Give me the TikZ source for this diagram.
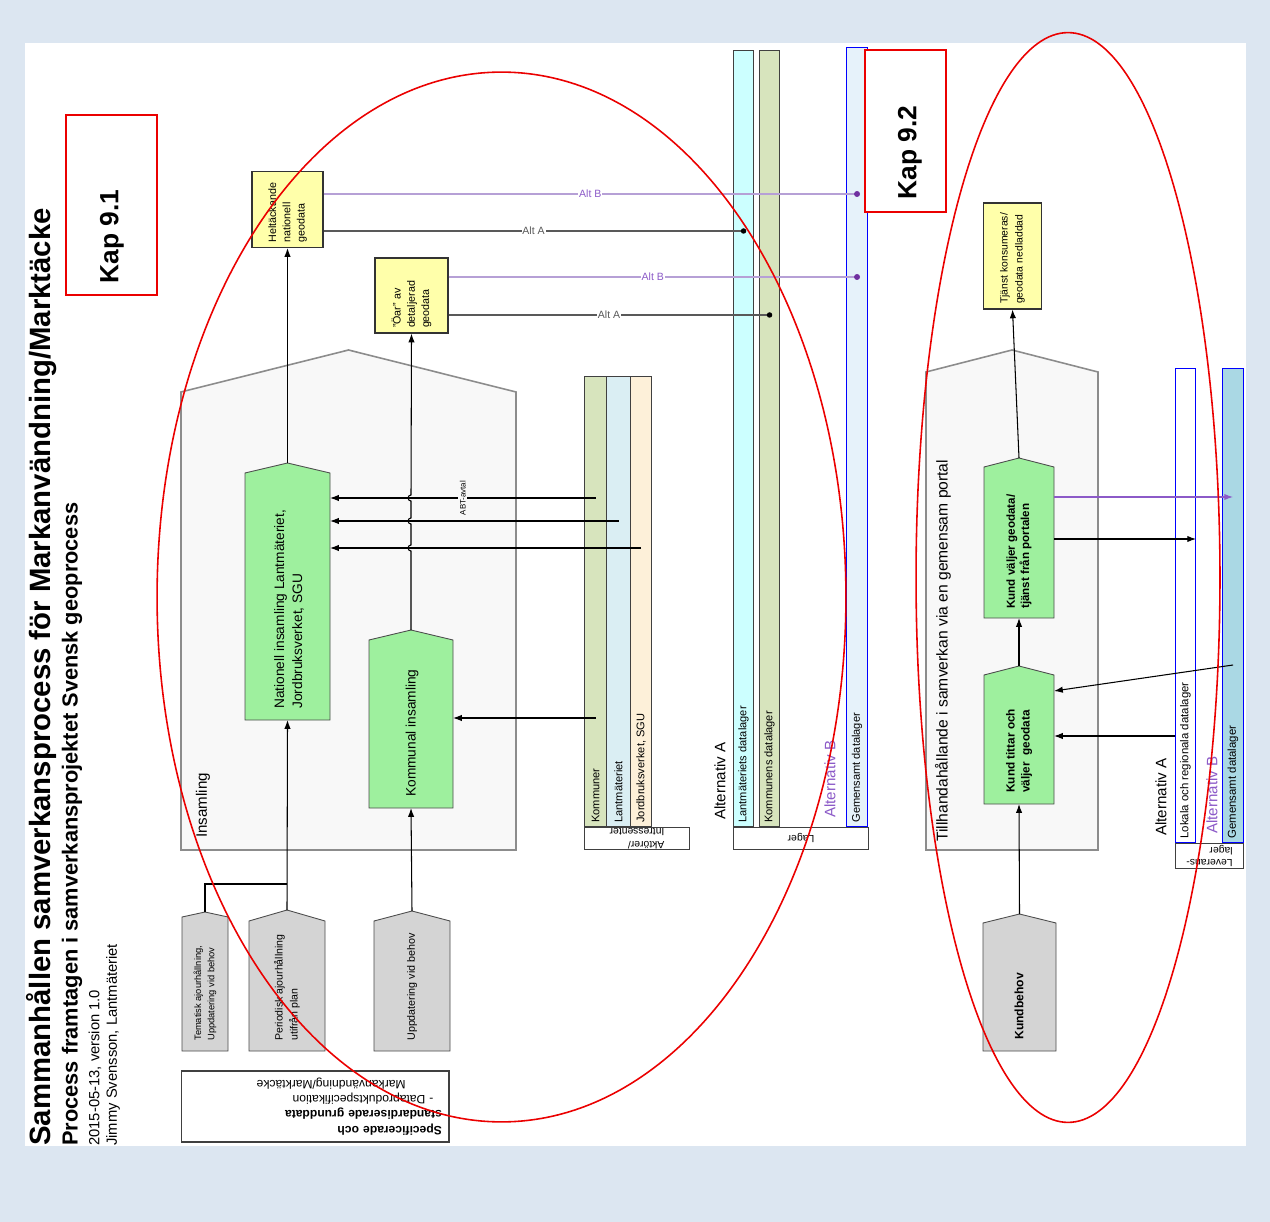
\documentclass[tikz,border=0pt]{standalone}
\usepackage{fontspec}
\setmainfont{Liberation Sans}
\usepackage{tikz}
\usetikzlibrary{shapes,arrows.meta,positioning,calc}
\usepackage{xcolor}
\definecolor{framebg}{RGB}{220,230,241}
\definecolor{boxgreen}{RGB}{158,240,158}
\definecolor{boxgray}{RGB}{212,212,212}
\definecolor{boxyellow}{RGB}{255,255,170}
\definecolor{phasegray}{RGB}{248,248,248}
\definecolor{cololive}{RGB}{215,228,189}
\definecolor{colsky}{RGB}{218,238,243}
\definecolor{colpeach}{RGB}{253,240,217}
\definecolor{colcyan}{RGB}{204,255,255}
\definecolor{colpale}{RGB}{230,242,250}
\definecolor{colblue}{RGB}{170,216,228}
\definecolor{altpurple}{RGB}{112,48,160}
\definecolor{altline}{RGB}{182,160,214}
\definecolor{altlabel}{RGB}{140,90,200}
\definecolor{kapred}{RGB}{235,0,0}

\newcommand{\fs}[2]{\fontsize{#1}{#2}\selectfont}
% pentagon box: name, left, right, corner y, apex y, base y, style
\newcommand{\capbox}[7]{%
  \draw[#7] (#2,#6) -- (#2,#4) -- ({(#2+#3)/2},#5) -- (#3,#4) -- (#3,#6) -- cycle;
  \coordinate (#1-apex) at ({(#2+#3)/2},#5);
  \coordinate (#1-base) at ({(#2+#3)/2},#6);
  \coordinate (#1-side) at (#3,#4);
}

\begin{document}
\begin{tikzpicture}[x=0.02cm, y=-0.02cm, >={Latex[length=5pt,width=3.6pt]}]
    \tikzstyle{phase} = [draw=black!45, line width=0.9pt, fill=phasegray]
    \tikzstyle{act} = [draw=black!70, line width=0.5pt, fill=boxgreen]
    \tikzstyle{need} = [draw=black!70, line width=0.5pt, fill=boxgray]
    \tikzstyle{result} = [draw=black!80, line width=0.6pt, fill=boxyellow, rotate=90, inner xsep=0.1cm, inner ysep=0pt, align=left]
    \tikzstyle{txt} = [rotate=90, anchor=west, inner sep=0pt, align=left]
    \tikzstyle{store} = [draw=black!75, line width=0.6pt, inner sep=0pt, anchor=north west]
    \tikzstyle{altstore} = [store, draw=blue]
    \tikzstyle{link} = [line width=0.6pt]
    \tikzstyle{flow} = [->, line width=0.6pt]
    \tikzstyle{altA} = [black!65, line width=0.6pt]
    \tikzstyle{altB} = [altline, line width=0.8pt]
    \tikzstyle{altlbl} = [fill=white, inner sep=0.5pt, font=\fs{6}{7}]
    \tikzstyle{kap} = [draw=kapred, line width=0.9pt]

    % frame
    \fill[framebg] (0,0) rectangle (1270,1222);
    \useasboundingbox (0,0) rectangle (1270,1222);
    \fill[white] (25,43) rectangle (1246,1146);

    % title block
    \node[txt, font=\bfseries\fs{16.7}{20}] (ttl) at (42,1146) {Sammanhållen samverkansprocess för Markanvändning/Marktäcke};
    \node[txt, font=\bfseries\fs{12.4}{14}] (sub) at (72,1146) {Process framtagen i samverkansprojektet Svensk geoprocess};
    \node[txt, font=\fs{8.4}{9}] (ver) at (95,1146) {2015-05-13, version 1.0};
    \node[txt, font=\fs{8.4}{9}] (auth) at (113,1146) {Jimmy Svensson, Lantmäteriet};

    % Insamling
    \capbox{ins}{181}{516}{392}{350}{850}{phase}
    \node[txt, font=\fs{8.6}{10}] (inslbl) at (203,838) {Insamling};
    \capbox{nat}{245}{330}{473}{463}{720}{act}
    \node[txt, font=\fs{7.8}{10.2}] (nattxt) at (289,709) {Nationell insamling Lantmäteriet,\\Jordbruksverket, SGU};
    \capbox{kmn}{369}{453}{640}{630}{808}{act}
    \node[txt, font=\fs{7.8}{10}] (kmntxt) at (412,797) {Kommunal insamling};

    % results
    \node[result, text width=1.32cm, minimum height=1.42cm, font=\fs{6.1}{8.1}] (hel) at (287.5,209.5) {Heltäckande\\nationell\\geodata};
    \node[result, text width=1.3cm, minimum height=1.46cm, font=\fs{6.1}{8.1}] (oar) at (411.5,295.5) {"Öar" av\\detaljerad\\geodata};

    % update needs
    \capbox{tem}{182}{228}{917}{912}{1051}{need}
    \node[txt, font=\fs{5.3}{7.5}] (temtxt) at (205,1041) {Tematisk ajourhållning,\\Uppdatering vid behov};
    \capbox{per}{249}{325}{921}{910}{1051}{need}
    \node[txt, font=\fs{6}{8.5}] (pertxt) at (287,1041) {Periodisk ajourhållning\\utifrån plan};
    \capbox{upp}{374}{450}{921}{911}{1051}{need}
    \node[txt, font=\fs{6.1}{8}] (upptxt) at (412,1041) {Uppdatering vid behov};

    \node[draw=black!75, line width=0.6pt, fill=white, rotate=180, inner xsep=0.14cm, inner ysep=0pt, text width=5.08cm, minimum height=1.42cm, align=left, font=\fs{6.9}{8.6}] (spec) at (315,1106.5)
      {\textbf{Specificerade och}\\\textbf{standardiserade grunddata}\\\hspace{0.7em}- Dataproduktspecifikation\\\hspace{3em}Markanvändning/Marktäcke};

    % actors
    \node[store, fill=cololive, minimum width=0.44cm, minimum height=9cm] (kmrcol) at (584,376) {};
    \node[store, fill=colsky, minimum width=0.48cm, minimum height=9cm] (lmtcol) at (606,376) {};
    \node[store, fill=colpeach, minimum width=0.42cm, minimum height=9cm] (jbvcol) at (630,376) {};
    \node[store, fill=white, minimum width=2.1cm, minimum height=0.44cm, font=\fs{5.9}{6.5}, below right=0pt and 0pt of kmrcol.south west] (aktlbl) {\rotatebox{180}{\shortstack[l]{Aktörer/\\Intressenter}}};
    \node[txt, font=\fs{6.3}{7}] (kmr) at ([yshift=0.08cm]kmrcol.south) {Kommuner};
    \node[txt, font=\fs{6.3}{7}] (lmt) at ([yshift=0.08cm]lmtcol.south) {Lantmäteriet};
    \node[txt, font=\fs{6.3}{7}] (jbv) at ([yshift=0.08cm]jbvcol.south) {Jordbruksverket, SGU};

    % lager
    \node[store, fill=colcyan, minimum width=0.4cm, minimum height=15.52cm] (lmdlcol) at (733,50) {};
    \node[store, fill=cololive, minimum width=0.4cm, minimum height=15.52cm] (kodlcol) at (759,50) {};
    \node[altstore, fill=colpale, minimum width=0.42cm, minimum height=15.58cm] (gemcol) at (846,47) {};
    \node[store, fill=white, minimum width=2.7cm, minimum height=0.44cm, font=\fs{5.9}{6.5}, below right=0pt and 0pt of lmdlcol.south west] (lagerlbl) {\rotatebox{180}{Lager}};
    \node[txt, font=\fs{6.3}{7}] (lmdl) at ([yshift=0.08cm]lmdlcol.south) {Lantmäteriets datalager};
    \node[txt, font=\fs{6.3}{7}] (kodl) at ([yshift=0.08cm]kodlcol.south) {Kommunens datalager};
    \node[txt, font=\fs{6.3}{7}] (gemdl) at ([yshift=0.08cm]gemcol.south) {Gemensamt datalager};
    \node[txt, font=\fs{8.6}{10}] (altA1) at (720,820) {Alternativ A};
    \node[txt, font=\fs{8.6}{10}, text=altlabel] (altB1) at (830,818) {Alternativ B};

    % flows into Insamling
    \draw[link] (tem-apex) |- (per-apex |- 0,884);
    \draw[flow] (per-apex) -- (nat-base);
    \draw[flow] (upp-apex) -- (kmn-base);
    \draw[flow] (kmrcol |- 0,498) -- node[rotate=90, fill=phasegray, inner sep=1pt, font=\fs{4.5}{5}] (abt) {ABT-avtal} (nat-side |- 0,498);
    \draw[flow] (lmtcol |- 0,521) -- (nat-side |- 0,521);
    \draw[flow] (jbvcol |- 0,548) -- (nat-side |- 0,548);
    \draw[flow] (kmrcol |- 0,718) -- (kmn-side |- 0,718);
    \draw[flow] (nat-apex) -- (hel.west);
    \draw[flow] (kmn-apex) -- (kmn-apex |- 0,551) arc[start angle=270, end angle=90, radius=0.06cm]
      -- (kmn-apex |- 0,524) arc[start angle=270, end angle=90, radius=0.06cm]
      -- (kmn-apex |- 0,501) arc[start angle=270, end angle=90, radius=0.06cm] -- (oar.west);

    % alternative links to lager
    \draw[altB] (hel.south |- 0,194) -- node[altlbl, text=altlabel] {Alt B} (gemcol |- 0,194);
    \draw[altA] (hel.south |- 0,231) -- node[altlbl] {Alt A} (lmdlcol |- 0,231);
    \draw[altB] (oar.south |- 0,277) -- node[altlbl, text=altlabel] {Alt B} (gemcol |- 0,277);
    \draw[altA] (oar.south |- 0,315) -- node[altlbl] {Alt A} (kodlcol |- 0,315);
    \fill[altpurple] (gemcol |- 0,194) circle (0.06cm) (gemcol |- 0,277) circle (0.06cm);
    \fill[black] (lmdlcol |- 0,231) circle (0.055cm) (kodlcol |- 0,315) circle (0.055cm);

    % Tillhandahållande
    \capbox{til}{926}{1098}{372}{350}{850}{phase}
    \node[txt, font=\fs{8.9}{10}] (tillbl) at (943,842) {Tillhandahållande i samverkan via en gemensam portal};
    \capbox{val}{984}{1054}{467}{458}{618}{act}
    \node[txt, font=\bfseries\fs{6.6}{8}] (valtxt) at (1019,609) {Kund väljer geodata/\\tjänst från portalen};
    \capbox{tit}{984}{1054}{675}{666}{804}{act}
    \node[txt, font=\bfseries\fs{6.7}{8.5}] (tittxt) at (1019,793) {Kund tittar och\\väljer\ \ geodata};
    \capbox{kbh}{983}{1056}{923}{914}{1051}{need}
    \node[txt, font=\bfseries\fs{6.9}{8}] (kbhtxt) at (1019,1040) {Kundbehov};
    \node[result, text width=1.92cm, minimum height=1.16cm, font=\fs{5.9}{8.5}] (tjanst) at (1012.5,256) {Tjänst konsumeras/\\geodata nedladdad};

    % leveranslager
    \node[altstore, fill=white, minimum width=0.4cm, minimum height=9.48cm] (lokcol) at (1175,368) {};
    \node[altstore, fill=colblue, minimum width=0.42cm, minimum height=9.48cm] (gemrcol) at (1222,368) {};
    \node[store, fill=white, minimum width=1.36cm, minimum height=0.5cm, font=\fs{5.9}{6.5}, below right=0pt and 0pt of lokcol.south west] (levlbl) {\rotatebox{180}{\shortstack[l]{Leverans-\\lager}}};
    \node[txt, font=\fs{6.5}{7}] (lok) at ([yshift=0.08cm]lokcol.south) {Lokala och regionala datalager};
    \node[txt, font=\fs{6.5}{7}] (gemr) at ([yshift=0.08cm]gemrcol.south) {Gemensamt datalager};
    \node[txt, font=\fs{8.6}{10}] (altA2) at (1161,836) {Alternativ A};
    \node[txt, font=\fs{8.6}{10}, text=altlabel] (altB2) at (1212,834) {Alternativ B};

    \draw[flow] (kbh-apex) -- (tit-base);
    \draw[flow] (tit-apex) -- (val-base);
    \draw[flow] (val-apex) -- (tjanst.west);
    \draw[flow, altlabel] (val-side |- 0,497) -- (gemrcol |- 0,497);
    \draw[flow] (val-side |- 0,539) -- (lokcol.east |- 0,539);
    \draw[flow] (gemrcol |- 0,665) -- (tit-side |- 0,691);
    \draw[flow] (lokcol.west |- 0,736) -- (tit-side |- 0,736);

    % chapter marks
    \draw[kap, fill=white] (66,115) rectangle (157,295);
    \node[txt, font=\bfseries\fs{15}{18}] (kap91) at (112,284) {Kap 9.1};
    \draw[kap, fill=white] (865,50) rectangle (946,212);
    \node[txt, font=\bfseries\fs{15}{18}] (kap92) at (910,200) {Kap 9.2};
    \draw[kapred, line width=0.9pt] (501.5,597) ellipse [x radius=6.89cm, y radius=10.5cm];
    \draw[kapred, line width=0.9pt] (1068,577.5) ellipse [x radius=3.04cm, y radius=10.9cm];
\end{tikzpicture}
\end{document}
